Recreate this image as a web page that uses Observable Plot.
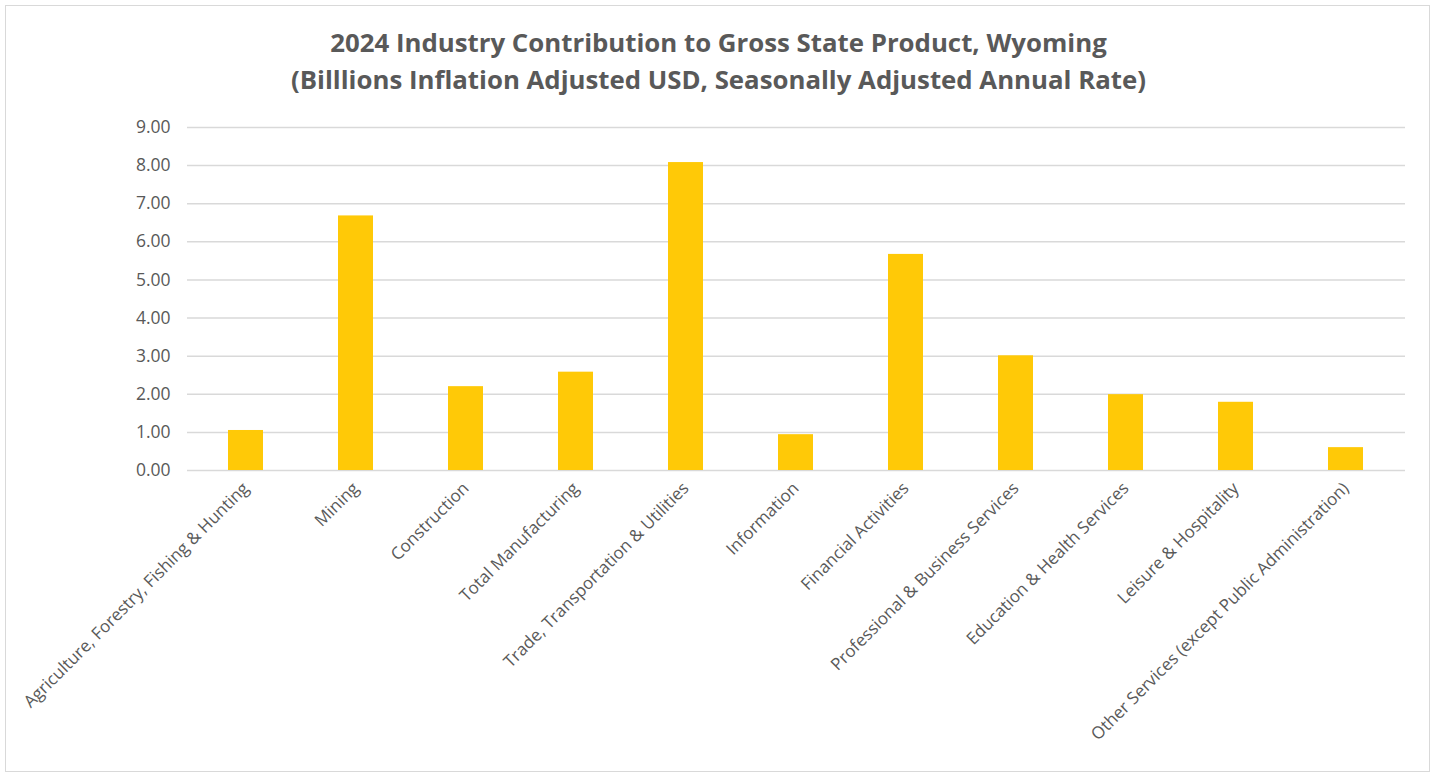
<!DOCTYPE html>
<html>
<head>
<meta charset="utf-8">
<script src="https://cdn.jsdelivr.net/npm/d3@7"></script>
<script src="https://cdn.jsdelivr.net/npm/@observablehq/plot@0.6"></script>
<style>
  html, body { margin: 0; padding: 0; background: #fff; }
  body { width: 1437px; height: 772px; overflow: hidden; position: relative; font-family: "Open Sans", sans-serif; }
  #frame { position: absolute; left: 5px; top: 5px; width: 1425px; height: 767px; border: 1.5px solid #d9d9d9; box-sizing: border-box; }
  #title { position: absolute; left: 0; top: 0; width: 1437px; height: 110px; box-sizing: border-box; padding-top: 24px; text-align: center; color: #595959; font-size: 25.8px; font-weight: 700; line-height: 37px; }
  #chart { position: absolute; left: 0; top: 110px; }
</style>
</head>
<body>
<div id="frame"></div>
<div id="title">2024 Industry Contribution to Gross State Product, Wyoming<br>(Billlions Inflation Adjusted USD, Seasonally Adjusted Annual Rate)</div>
<div id="chart"></div>
<script>
const industries = [
  "Agriculture, Forestry, Fishing & Hunting",
  "Mining",
  "Construction",
  "Total Manufacturing",
  "Trade, Transportation & Utilities",
  "Information",
  "Financial Activities",
  "Professional & Business Services",
  "Education & Health Services",
  "Leisure & Hospitality",
  "Other Services (except Public Administration)"
];
const values = [1.05, 6.68, 2.2, 2.58, 8.08, 0.94, 5.67, 3.01, 1.99, 1.79, 0.6];
const yTicks = [0, 1, 2, 3, 4, 5, 6, 7, 8, 9];

const data = industries.map((name, i) => ({name, value: values[i]}));

const chart = Plot.plot({
  width: 1437,
  height: 662,
  marginTop: 17,
  marginBottom: 302,
  marginLeft: 187,
  marginRight: 32,
  style: {fontFamily: "'Open Sans', sans-serif", color: "#595959", background: "transparent"},
  x: {domain: industries, paddingInner: 0.68, paddingOuter: 0.34, label: null},
  y: {domain: [0, 9], label: null},
  marks: [
    Plot.ruleY(yTicks, {stroke: "#d9d9d9", strokeWidth: 1.5}),
    Plot.barY(data, {x: "name", y: "value", fill: "#FFC907"}),
    Plot.axisY(yTicks, {tickFormat: d3.format(".2f"), tickSize: 0, tickPadding: 17, fontSize: 17.5, fill: "#595959", label: null}),
    Plot.axisX({tickRotate: -45, tickSize: 0, tickPadding: 15, fontSize: 17, fill: "#595959", label: null})
  ]
});
document.getElementById("chart").appendChild(chart);
</script>
</body>
</html>
